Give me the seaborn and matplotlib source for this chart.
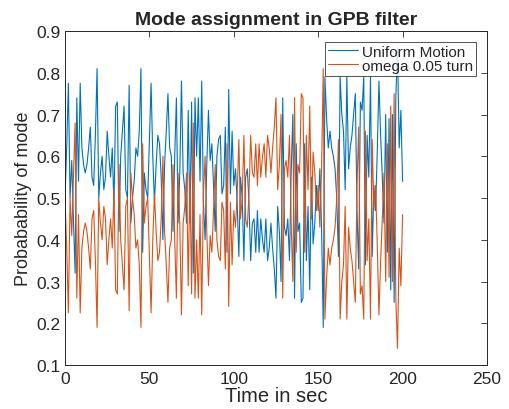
import numpy as np
import pandas as pd
import matplotlib
matplotlib.use("Agg")
import matplotlib.pyplot as plt
import seaborn as sns

time_sec = list(range(0, 201))
uniform_motion = [
    0.50, 0.62, 0.775, 0.50, 0.59, 0.45, 0.32, 0.74, 0.54, 0.775,
    0.62, 0.58, 0.56, 0.58, 0.62, 0.67, 0.55, 0.53, 0.65, 0.81,
    0.50, 0.56, 0.60, 0.52, 0.55, 0.66, 0.60, 0.55, 0.62, 0.48,
    0.72, 0.73, 0.42, 0.60, 0.66, 0.72, 0.52, 0.50, 0.77, 0.44,
    0.50, 0.54, 0.62, 0.60, 0.66, 0.81, 0.37, 0.56, 0.52, 0.50,
    0.64, 0.775, 0.60, 0.49, 0.58, 0.65, 0.63, 0.55, 0.40, 0.58,
    0.66, 0.75, 0.62, 0.60, 0.42, 0.60, 0.74, 0.44, 0.56, 0.78,
    0.56, 0.52, 0.44, 0.71, 0.44, 0.73, 0.32, 0.74, 0.60, 0.74,
    0.54, 0.78, 0.49, 0.40, 0.58, 0.71, 0.59, 0.63, 0.53, 0.42,
    0.60, 0.64, 0.65, 0.51, 0.53, 0.67, 0.37, 0.76, 0.51, 0.66,
    0.53, 0.57, 0.49, 0.36, 0.55, 0.50, 0.35, 0.55, 0.57, 0.49,
    0.35, 0.44, 0.45, 0.37, 0.47, 0.37, 0.45, 0.40, 0.37, 0.45,
    0.35, 0.38, 0.44, 0.38, 0.33, 0.26, 0.48, 0.42, 0.30, 0.74,
    0.43, 0.41, 0.45, 0.35, 0.56, 0.70, 0.26, 0.63, 0.42, 0.44,
    0.25, 0.26, 0.63, 0.35, 0.48, 0.28, 0.55, 0.39, 0.44, 0.53,
    0.47, 0.57, 0.43, 0.19, 0.79, 0.69, 0.62, 0.66, 0.62, 0.60,
    0.57, 0.50, 0.36, 0.79, 0.70, 0.66, 0.52, 0.79, 0.57, 0.62,
    0.65, 0.70, 0.75, 0.47, 0.33, 0.73, 0.71, 0.79, 0.34, 0.65,
    0.55, 0.79, 0.36, 0.53, 0.47, 0.61, 0.78, 0.65, 0.55, 0.44,
    0.70, 0.37, 0.69, 0.28, 0.70, 0.25, 0.74, 0.86, 0.62, 0.71,
    0.54,
]
omega_turn = [round(1.0 - v, 3) for v in uniform_motion]
series_names = ["Uniform Motion", "omega 0.05 turn"]
x_ticks = [0, 50, 100, 150, 200, 250]
y_ticks = [0.1, 0.2, 0.3, 0.4, 0.5, 0.6, 0.7, 0.8, 0.9]

df = pd.DataFrame({
    "t": time_sec * 2,
    "p": uniform_motion + omega_turn,
    "mode": [series_names[0]] * len(time_sec) + [series_names[1]] * len(time_sec),
})

sns.set_theme(style="white")
plt.rcParams['font.family'] = ['Liberation Sans', 'DejaVu Sans']

fig = plt.figure(figsize=(5.09, 4.10), dpi=100)
ax = fig.add_axes([0.1277, 0.1073, 0.829, 0.8146])
sns.lineplot(data=df, x="t", y="p", hue="mode",
             palette=["#0072BD", "#D95319"], linewidth=0.8, ax=ax)

ax.set_xlim(0, 250)
ax.set_ylim(0.1, 0.9)
ax.set_xticks(x_ticks)
ax.set_yticks(y_ticks)
ax.set_xticklabels([str(v) for v in x_ticks])
ax.set_yticklabels([f"{v:g}" for v in y_ticks])
ax.tick_params(direction="in", top=True, right=True, length=4, width=0.6,
               labelsize=12.5, colors="#262626")
ax.tick_params(axis="x", pad=4.5)
ax.tick_params(axis="y", pad=3)
for s in ax.spines.values():
    s.set_color("#262626")
    s.set_linewidth(0.7)
ax.set_xlabel("Time in sec", fontsize=14.5, color="#262626", labelpad=0)
ax.set_ylabel("Probabability of mode", fontsize=13, color="#262626", labelpad=3)
ax.set_title("Mode assignment in GPB filter", fontsize=14, fontweight="bold", pad=5)

leg = ax.legend(loc="upper right", fontsize=11, frameon=True, fancybox=False,
                edgecolor="#262626", handlelength=1.9, borderpad=0.2,
                labelspacing=0.0, handletextpad=0.3, borderaxespad=0.7)
leg.get_frame().set_linewidth(0.7)
leg.set_title(None)

fig.savefig("out.png", dpi=100, facecolor="white")
